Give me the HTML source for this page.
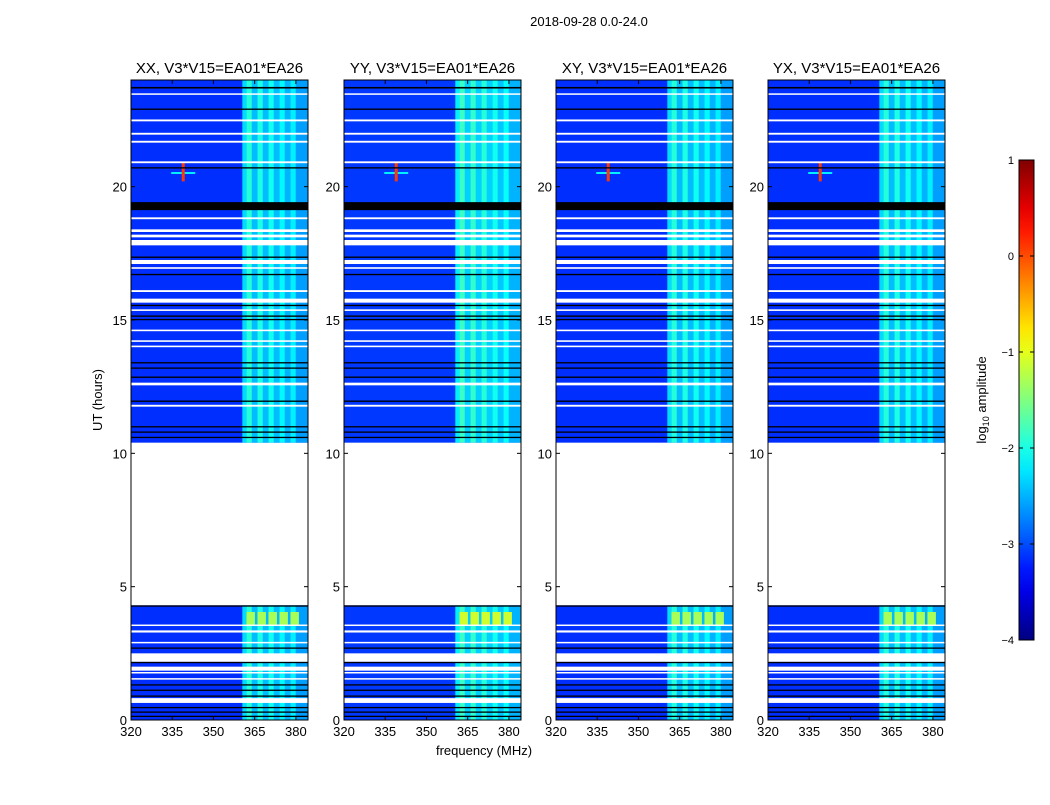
<!DOCTYPE html>
<html><head><meta charset="utf-8"><style>
body{margin:0;background:#fff;font-family:"Liberation Sans",sans-serif}
svg text{font-family:"Liberation Sans",sans-serif}
</style></head><body>
<svg id="fig" width="1050" height="800" viewBox="0 0 1050 800" xmlns="http://www.w3.org/2000/svg">
<rect width="1050" height="800" fill="#fff"/>
<text x="589" y="26" font-size="13" text-anchor="middle">2018-09-28 0.0-24.0</text>
<text x="484" y="755" font-size="13" text-anchor="middle">frequency (MHz)</text>
<text transform="translate(102,400) rotate(-90)" font-size="13" text-anchor="middle">UT (hours)</text>
<g id="panels"></g>
<g id="cbar"></g>
</svg>
<script>
const panelTitles=["XX, V3*V15=EA01*EA26","YY, V3*V15=EA01*EA26","XY, V3*V15=EA01*EA26","YX, V3*V15=EA01*EA26"];
const panelLefts=[131,344,556,768];
const xTicks=[320,335,350,365,380];
const yTicks=[0,5,10,15,20];
const dataSegments=[[0,4.3],[10.4,24]];
const baseLevel=[-3.15,-3.1,-3.15,-3.15];
const bandEdges=[360.5,362,364,366,368,370,372,374,376,378,380,384.4];
const bandLevels=[-2.3,-1.95,-2.45,-2.0,-2.45,-2.05,-2.45,-2.15,-2.5,-2.2,-2.6];
const whiteGaps=[[23.45,23.5],[22.45,22.52],[21.95,22.02],[21.65,21.72],[20.88,20.95],[18.78,18.85],[18.3,18.4],[18.1,18.2],[17.8,18.0],[17.1,17.25],[16.92,16.98],[16.05,16.12],[15.65,15.8],[15.34,15.4],[14.58,14.64],[14.18,14.24],[13.98,14.04],[12.55,12.65],[11.75,11.82],[3.53,3.58],[3.28,3.36],[2.88,2.93],[2.18,2.5],[1.85,2.0],[1.76,1.8],[1.52,1.57],[0.64,0.82]];
const blackLines=[[23.68,23.74],[22.88,22.93],[20.68,20.73],[19.12,19.42],[17.33,17.38],[16.68,16.73],[15.52,15.57],[15.12,15.17],[15.0,15.04],[13.38,13.42],[13.18,13.22],[12.83,12.88],[11.93,11.98],[10.98,11.02],[10.78,10.82],[10.58,10.62],[4.25,4.3],[2.68,2.72],[2.15,2.18],[1.3,1.34],[1.1,1.14],[0.88,0.92],[0.45,0.49],[0.28,0.32],[0.12,0.16]];
const hotBlocks=[[362,380,3.55,4.05,-1.3]];
const spotFreq=339, spotHours=[20.2,20.9], spotLevel=0.1;
const cbTicks=[1,0,-1,-2,-3,-4];

const x0=320,x1=384.4,pw=177,yTop=80,yBot=720;
const ys=h=>yBot-(h/24)*(yBot-yTop);
function jet(v){
  let t=(v+4)/5;t=Math.max(0,Math.min(1,t));
  const r=Math.min(1,Math.max(0,Math.min(4*t-1.5,-4*t+4.5)));
  const g=Math.min(1,Math.max(0,Math.min(4*t-0.5,-4*t+3.5)));
  const b=Math.min(1,Math.max(0,Math.min(4*t+0.5,-4*t+2.5)));
  return `rgb(${Math.round(r*255)},${Math.round(g*255)},${Math.round(b*255)})`;
}
const NS="http://www.w3.org/2000/svg";
function mk(tag,attrs,parent){const e=document.createElementNS(NS,tag);for(const k in attrs)e.setAttribute(k,attrs[k]);parent.appendChild(e);return e;}
const P=document.getElementById('panels');
panelLefts.forEach((L,pi)=>{
  const xs=f=>L+(f-x0)/(x1-x0)*pw;
  const g=mk('g',{},P);
  
  
  dataSegments.forEach(s=>{
    const r=mk('rect',{x:L,y:ys(s[1]),width:pw,height:ys(s[0])-ys(s[1]),fill:jet(baseLevel[pi])},g);
    
    
    for(let i=0;i<bandLevels.length;i++){
      const c=mk('rect',{x:xs(bandEdges[i]),y:ys(s[1]),width:xs(bandEdges[i+1])-xs(bandEdges[i]),height:ys(s[0])-ys(s[1]),fill:jet(bandLevels[i]+(pi==1?0.1:0))},g);
      
      
    }
  });
  hotBlocks.forEach(b=>{
    for(let i=1;i<bandLevels.length;i+=2){
      if(bandEdges[i]>=b[1])break;
      const c=mk('rect',{x:xs(bandEdges[i]),y:ys(b[3]),width:xs(bandEdges[i+1])-xs(bandEdges[i])+3,height:ys(b[2])-ys(b[3]),fill:jet(b[4]+(pi==1?0.2:0))},g);
      
      
    }
  });
  const sh=mk('rect',{x:xs(spotFreq)-12,y:ys(20.55),width:24,height:2,fill:jet(-2.2)},g);
  
  
  const sp=mk('rect',{x:xs(spotFreq)-1.5,y:ys(spotHours[1]),width:3,height:ys(spotHours[0])-ys(spotHours[1]),fill:jet(spotLevel)},g);
  
  
  whiteGaps.forEach(w=>{
    const r=mk('rect',{x:L,y:ys(w[1]),width:pw,height:Math.max(1.5,ys(w[0])-ys(w[1])),fill:'#fff'},g);
    
    
  });
  blackLines.forEach(w=>{
    const r=mk('rect',{x:L,y:ys(w[1]),width:pw,height:Math.max(1.3,ys(w[0])-ys(w[1])),fill:'#000'},g);
    
    
  });
  const fr=mk('rect',{x:L,y:yTop,width:pw,height:yBot-yTop,fill:'none',stroke:'#000','stroke-width':1},g);
  
  
  const t=mk('text',{x:L+pw/2,y:73,'font-size':15,'text-anchor':'middle'},g);
  t.textContent=panelTitles[pi];
  
  
  xTicks.forEach(f=>{
    mk('line',{x1:xs(f),x2:xs(f),y1:yBot,y2:yBot-4,stroke:'#000'},g);
    mk('line',{x1:xs(f),x2:xs(f),y1:yTop,y2:yTop+4,stroke:'#000'},g);
    const tx=mk('text',{x:xs(f),y:736,'font-size':13,'text-anchor':'middle'},g);
    tx.textContent=f;
    
    
  });
  yTicks.forEach(h=>{
    mk('line',{x1:L,x2:L+4,y1:ys(h),y2:ys(h),stroke:'#000'},g);
    mk('line',{x1:L+pw,x2:L+pw-4,y1:ys(h),y2:ys(h),stroke:'#000'},g);
    const ty=mk('text',{x:L-4,y:ys(h)+5,'font-size':13,'text-anchor':'end'},g);
    ty.textContent=h;
    
    
  });
});
const C=document.getElementById('cbar');
const cbx=1019,cbw=15,cbt=160,cbb=640;
const cy=v=>cbb-(v+4)/5*(cbb-cbt);
const defs=mk('defs',{},C);
const lg=mk('linearGradient',{id:'jetg',x1:0,y1:1,x2:0,y2:0},defs);
for(let i=0;i<=20;i++){mk('stop',{offset:i/20,'stop-color':jet(-4+5*i/20)},lg);}
const cr=mk('rect',{x:cbx,y:cbt,width:cbw,height:cbb-cbt,fill:'url(#jetg)',stroke:'#000'},C);


cbTicks.forEach(v=>{
  mk('line',{x1:cbx,x2:cbx+4,y1:cy(v),y2:cy(v),stroke:'#000'},C);
  mk('line',{x1:cbx+cbw,x2:cbx+cbw-4,y1:cy(v),y2:cy(v),stroke:'#000'},C);
  const t=mk('text',{x:cbx-5,y:cy(v)+4,'font-size':11,'text-anchor':'end'},C);
  t.textContent=v<0?'\u2212'+(-v):v;
  
  
});
const cl=mk('text',{transform:'translate(986,400) rotate(-90)','font-size':13,'text-anchor':'middle'},C);
cl.innerHTML='log<tspan font-size="9" dy="3">10</tspan><tspan dy="-3"> amplitude</tspan>';


</script>
</body></html>
